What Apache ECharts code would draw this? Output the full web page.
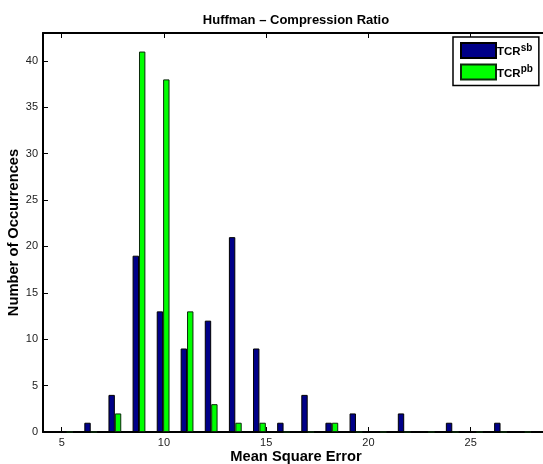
<!DOCTYPE html>
<html><head><meta charset="utf-8">
<script src="https://cdn.jsdelivr.net/npm/echarts@6/dist/echarts.min.js"></script>
<style>html,body{margin:0;padding:0;background:#fff}#c{width:543px;height:464px}</style>
</head><body><div id="c"></div>
<script>
// bin centres (Mean Square Error)
var binCenters = [5.24, 6.42, 7.60, 8.78, 9.96, 11.13, 12.31, 13.49, 14.67, 15.85, 17.03, 18.21, 19.39, 20.57, 21.75, 22.92, 24.10, 25.28, 26.46, 27.64, 28.82];
var tcrSb = [0, 1, 4, 19, 13, 9, 12, 21, 9, 1, 4, 1, 2, 0, 2, 0, 1, 0, 1, 0, 0];
var tcrPb = [0, 0, 2, 41, 38, 13, 3, 1, 1, 0, 0, 1, 0, 0, 0, 0, 0, 0, 0, 0, 0];
var xTicks = [5, 10, 15, 20, 25];
var yTicks = [0, 5, 10, 15, 20, 25, 30, 35, 40];
var seriesNames = ['TCR^sb', 'TCR^pb'];

function pairs(vals) { return binCenters.map(function (x, i) { return [x, vals[i]]; }); }

var font = 'Liberation Sans, Arial, Helvetica, sans-serif';
var chart = echarts.init(document.getElementById('c'));
chart.setOption({
  animation: false,
  backgroundColor: '#fff',
  title: {
    text: 'Huffman \u2013 Compression Ratio',
    left: 291, top: 9, textAlign: 'center',
    textStyle: { fontFamily: font, fontSize: 13, fontWeight: 'bold', color: '#000' }
  },
  legend: {
    orient: 'vertical', left: 453, top: 37,
    padding: [5, 6, 5, 7], itemGap: 4.5, itemWidth: 35, itemHeight: 15,
    backgroundColor: '#fff', borderColor: '#000', borderWidth: 1.5, borderRadius: 0,
    icon: 'rect',
    data: seriesNames,
    formatter: function (n) { var p = n.split('^'); return '{a|' + p[0] + '}{s|' + p[1] + '}'; },
    textStyle: {
      fontFamily: font, color: '#000', padding: [0, 0, 0, -4],
      rich: {
        a: { fontFamily: font, fontSize: 11.5, fontWeight: 'bold', color: '#000', lineHeight: 15, verticalAlign: 'bottom' },
        s: { fontFamily: font, fontSize: 10, fontWeight: 'bold', color: '#000', lineHeight: 15, verticalAlign: 'top', padding: [0, 0, 6, 0] }
      }
    }
  },
  grid: { left: 43, top: 33, bottom: 32, right: -6, containLabel: false, outerBoundsMode: 'none' },
  xAxis: [{
    type: 'value', min: 4.086, max: 28.83, position: 'bottom',
    name: 'Mean Square Error', nameLocation: 'middle', nameGap: 17, nameMoveOverlap: false,
    nameTextStyle: { fontFamily: font, fontSize: 14.7, fontWeight: 'bold', color: '#000' },
    axisLine: { show: true, onZero: false, lineStyle: { color: '#000', width: 2 } },
    axisTick: { show: true, inside: true, length: 5, customValues: xTicks, lineStyle: { color: '#000', width: 1 } },
    axisLabel: { customValues: xTicks, fontFamily: font, fontSize: 11, color: '#222', margin: 5 },
    splitLine: { show: false }
  }, {
    type: 'value', min: 4.086, max: 28.83, position: 'top',
    axisLine: { show: true, onZero: false, lineStyle: { color: '#000', width: 2 } },
    axisTick: { show: true, inside: true, length: 5, customValues: xTicks, lineStyle: { color: '#000', width: 1 } },
    axisLabel: { show: false },
    splitLine: { show: false }
  }],
  yAxis: {
    type: 'value', min: 0, max: 43,
    name: 'Number of Occurrences', nameLocation: 'middle', nameGap: 22, nameMoveOverlap: false,
    nameTextStyle: { fontFamily: font, fontSize: 14.7, fontWeight: 'bold', color: '#000' },
    axisLine: { show: true, lineStyle: { color: '#000', width: 2 } },
    axisTick: { show: true, inside: true, length: 5, customValues: yTicks, lineStyle: { color: '#000', width: 1 } },
    axisLabel: { customValues: yTicks, fontFamily: font, fontSize: 11, color: '#222', margin: 5 },
    splitLine: { show: false }
  },
  series: [{
    name: seriesNames[0], type: 'bar', xAxisIndex: 0,
    data: pairs(tcrSb), barWidth: 6.4, barGap: '0%',
    itemStyle: { color: '#000088', borderColor: '#000', borderWidth: 1 }
  }, {
    name: seriesNames[1], type: 'bar', xAxisIndex: 0,
    data: pairs(tcrPb), barWidth: 6.4, barGap: '0%',
    itemStyle: { color: '#00ff00', borderColor: '#0b2a0b', borderWidth: 1 }
  }]
});
</script></body></html>
